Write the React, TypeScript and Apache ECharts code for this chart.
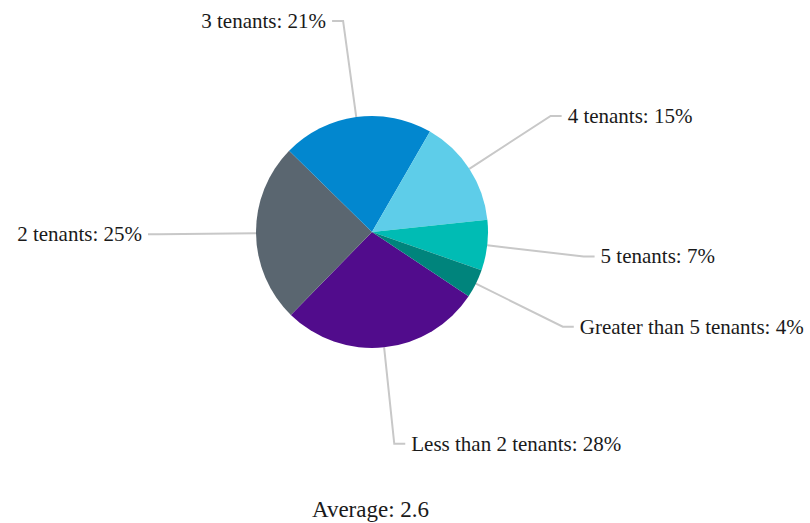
import React, { useEffect, useRef } from "react";
import * as echarts from "echarts";

const categories = [
  "Less than 2 tenants",
  "2 tenants",
  "3 tenants",
  "4 tenants",
  "5 tenants",
  "Greater than 5 tenants",
];
const shares = [28, 25, 21, 15, 7, 4];
const sliceColors = ["#510c8c", "#5a6670", "#0287cf", "#5ecde9", "#00bcb4", "#00847c"];
const averageText = "Average: 2.6";

export default function App() {
  const ref = useRef<HTMLDivElement>(null);
  useEffect(() => {
    document.body.style.margin = "0";
    if (!ref.current) return;
    const chart = echarts.init(ref.current, undefined, { renderer: "svg" });
    chart.setOption({
      animation: false,
      backgroundColor: "#ffffff",
      title: {
        text: averageText,
        left: 307,
        top: 493,
        padding: 5,
        textStyle: {
          fontFamily: "Liberation Serif",
          fontSize: 23,
          fontWeight: "normal",
          color: "#1a1a1a",
        },
      },
      series: [
        {
          type: "pie",
          center: [372, 232],
          radius: 116,
          startAngle: 326.4,
          clockwise: true,
          avoidLabelOverlap: false,
          data: categories.map((name, i) => ({
            name,
            value: shares[i],
            itemStyle: { color: sliceColors[i] },
          })),
          label: {
            show: true,
            position: "outside",
            formatter: "{b}: {c}%",
            fontFamily: "Liberation Serif",
            fontSize: 21,
            color: "#1a1a1a",
            distanceToLabelLine: 6,
          },
          labelLine: {
            show: true,
            length: 97,
            length2: 11,
            smooth: false,
            lineStyle: { color: "#c8c8c8", width: 2 },
          },
          emphasis: { disabled: true },
        },
      ],
    });
    return () => chart.dispose();
  }, []);
  return <div ref={ref} style={{ width: 810, height: 523 }} />;
}
